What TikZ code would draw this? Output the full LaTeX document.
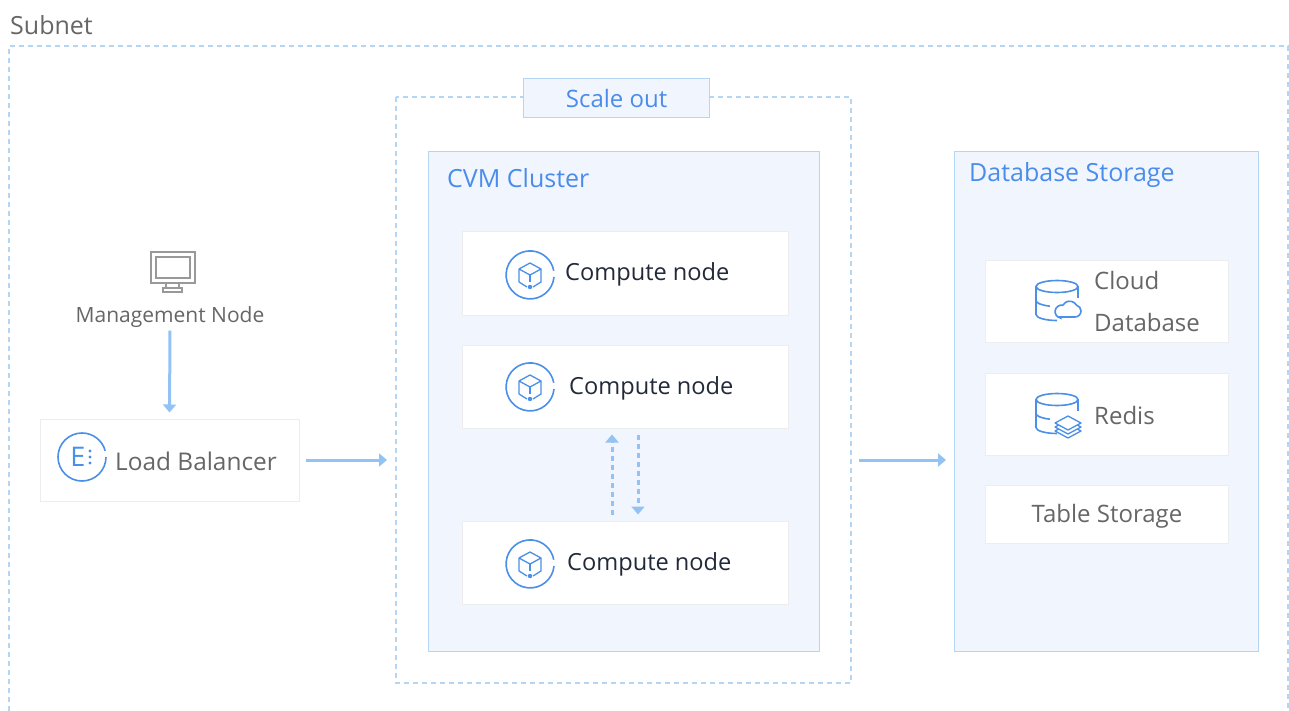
\documentclass[tikz,border=0pt]{standalone}
\usepackage{fontspec}
\setmainfont{Open Sans}
\usetikzlibrary{shadows,arrows.meta}
\definecolor{panelfill}{HTML}{F1F6FE}
\definecolor{panelline}{HTML}{B5D5F5}
\definecolor{arrowblue}{HTML}{93C2F5}
\definecolor{iconblue}{HTML}{4A90E8}
\definecolor{titleblue}{HTML}{4A8CEB}
\definecolor{textgray}{HTML}{666666}
\definecolor{textdark}{HTML}{222A3A}
\tikzset{
	panel/.style={draw=panelline,fill=panelfill,line width=1.2pt,anchor=north west,inner sep=0pt},
	frame/.style={draw=panelline,line width=1.4pt,dash pattern=on 5pt off 4pt},
	card/.style={fill=white,draw=black!7,line width=1pt,inner sep=0pt,drop shadow={shadow xshift=0pt,shadow yshift=-1.2pt,opacity=0.09,fill=black}},
	flow/.style={draw=arrowblue,line width=3pt,-{Triangle[width=13pt,length=8pt]}},
	updown/.style={flow,dash pattern=on 5pt off 4pt},
	label/.style={font=\fontsize{24}{28}\selectfont,inner sep=0pt},
	title/.style={font=\fontsize{25}{29}\selectfont,inner sep=0pt,text=titleblue},
	icon/.style={draw=iconblue,line width=1.6pt},
	screen/.style={draw=gray!80,line width=1.4pt},
	computeicon/.pic={
		\draw[icon] (24pt,-2pt) arc[start angle=-5,end angle=-350,radius=24pt];
		\draw[icon,line width=1.3pt,line join=round] (-11,7)--(-11,-6)--(0,-12)--(11,-6)--(11,7)--(3,12);
		\draw[icon,line width=1.3pt] (-3,12)--(-11,7);
		\draw[icon,line width=1.3pt,line join=round] (-11,-6)--(0,0)--(11,-6);
		\draw[icon,line width=1.3pt] (0,0)--(0,7);
		\fill[iconblue] (0,12) circle (2.2pt);
	},
	dbicon/.pic={
		\draw[icon] (0,-14) ellipse (21pt and 6pt);
		\draw[icon] (-21,-14)--(-21,14) arc[start angle=180,end angle=270,x radius=21pt,y radius=6pt];
		\draw[icon] (21,-14)--(21,-3);
		\draw[icon] (-21,0) arc[start angle=180,end angle=250,x radius=21pt,y radius=6pt];
	}
}
\begin{document}
\begin{tikzpicture}[x=1pt,y=-1pt]
	\useasboundingbox (0,0) rectangle (1289,711);

	\node[label,font=\fontsize{25}{29}\selectfont,anchor=west,text=textgray] (subnet) at (10,25) {Subnet};
	\draw[frame] (9,711)--(9,46)--(1288,46)--(1288,711);

	% scale out frame and its tab
	\draw[frame] (396,97) rectangle (851,683);
	\node[panel,minimum width=186pt,minimum height=39pt,text=titleblue,font=\fontsize{24}{28}\selectfont] (scale) at (523,78) {Scale out};

	% the two large panels
	\node[panel,minimum width=391pt,minimum height=500pt] (cluster) at (428,151) {};
	\node[title,anchor=west] (clustertitle) at (447,178) {CVM Cluster};
	\node[panel,minimum width=304pt,minimum height=500pt] (storage) at (954,151) {};
	\node[title,anchor=west] (storagetitle) at (969,175) {Database Storage};

	% compute nodes
	\foreach \name/\y/\tx/\ty/\iy in {one/273.5/565/274/275,two/386.5/569/388/387,three/562.5/567/564/564}
	{
		\node[card,minimum width=326pt,minimum height=83pt] (\name) at (625,\y) {};
		\pic at (530,\iy) {computeicon};
		\node[label,font=\fontsize{23.6}{28}\selectfont,anchor=west,text=textdark] (\name text) at (\tx,\ty) {Compute node};
	}

	% database cards
	\node[card,minimum width=243pt,minimum height=82pt] (cloud) at (1106.5,301) {};
	\pic at (1057,300.5) {dbicon};
	\draw[icon,fill=white] (1060,317)--(1075,317) arc[start angle=-90,end angle=75,radius=6pt] arc[start angle=30,end angle=150,radius=8pt] arc[start angle=80,end angle=260,radius=6.5pt] -- cycle;
	\node[label,anchor=west,text=textgray] (cloudtop) at (1094,280) {Cloud};
	\node[label,anchor=west,text=textgray] (cloudbottom) at (1094,322) {Database};

	\node[card,minimum width=243pt,minimum height=82pt] (redis) at (1106.5,414) {};
	\pic at (1057,413.5) {dbicon};
	\foreach \s in {8,4,0}
	{
		\draw[icon,line width=1.3pt,fill=white,line join=round] (1068,{416+\s})--(1081,{423+\s})--(1068,{430+\s})--(1055,{423+\s})--cycle;
	}
	\node[label,anchor=west,text=textgray] (redistext) at (1094,415) {Redis};

	\node[card,minimum width=243pt,minimum height=58pt] (table) at (1106.5,514) {};
	\node[label,text=textgray] (tabletext) at (1107,516) {Table Storage};

	% management side
	\node[label,font=\fontsize{21}{25}\selectfont,text=textgray] (mgmt) at (170,317) {Management Node};
	\draw[screen] (151,252) rectangle (195,283);
	\draw[screen] (156,257) rectangle (190,278);
	\draw[screen] (166,283)--(166,288) (179,283)--(179,288);
	\draw[screen] (163,288) rectangle (182,292);

	\node[card,minimum width=259pt,minimum height=82pt] (balancer) at (169.5,460) {};
	\draw[icon] (106,457) arc[start angle=0,end angle=-345,radius=24pt];
	\node[font=\fontsize{27}{30}\selectfont,text=iconblue,inner sep=0pt] (balancericon) at (78,457) {E};
	\fill[iconblue] (90,451) circle (1.7pt) (90,457) circle (1.7pt) (90,463) circle (1.7pt);
	\node[label,font=\fontsize{24.4}{28}\selectfont,anchor=west,text=textgray] (balancertext) at (115,461) {Load Balancer};

	% connectors
	\draw[flow,shorten <=3pt,shorten >=6pt] (mgmt.south)--(balancer.north);
	\coordinate (scaleleft) at (396,460);
	\coordinate (scaleright) at (851,460);
	\coordinate (storageleft) at (954,460);
	\draw[flow,shorten <=6pt,shorten >=9pt] (balancer.east)--(scaleleft);
	\draw[flow,shorten <=8pt,shorten >=8pt] (scaleright)--(storageleft);
	\draw[updown,shorten <=6pt,shorten >=6pt] ([xshift=-13pt]three.north)--([xshift=-13pt]two.south);
	\draw[updown,shorten <=6pt,shorten >=6pt] ([xshift=13pt]two.south)--([xshift=13pt]three.north);
\end{tikzpicture}
\end{document}
